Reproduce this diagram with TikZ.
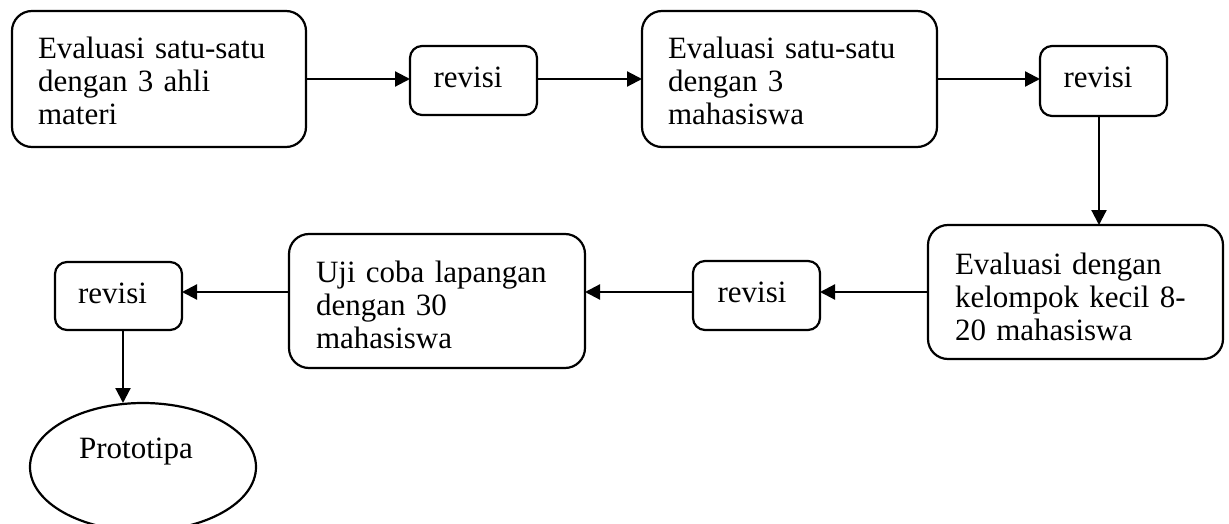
\documentclass[tikz,border=0pt]{standalone}
\usepackage{fontspec}
\setmainfont{Liberation Serif}
\usetikzlibrary{arrows.meta,shapes.geometric}
\tikzset{
  bigbox/.style={draw, line width=2.2pt, rounded corners=20pt, inner sep=0pt, outer sep=0pt},
  smallbox/.style={draw, line width=2.2pt, rounded corners=12pt, inner sep=0pt, outer sep=0pt},
  ovalnode/.style={draw, ellipse, line width=2.2pt, inner sep=0pt, outer sep=0pt},
  txt/.style={font=\fontsize{31}{33}\selectfont, inner sep=0pt, outer sep=0pt},
  mtxt/.style={txt, text width=280pt, align=left, anchor=base west},
  arr/.style={line width=2.2pt, -{Triangle[length=15pt,width=15pt]}}
}
\begin{document}
\begin{tikzpicture}[x=1pt,y=-1pt]
\useasboundingbox (0,0) rectangle (1229,524);
\clip (0,0) rectangle (1229,524);
% boxes
\node[bigbox, minimum width=294pt, minimum height=136pt] (p1) at (159,79) {};
\node[smallbox, minimum width=127pt, minimum height=69pt] (p2) at (473.5,80.5) {};
\node[bigbox, minimum width=295pt, minimum height=136pt] (p3) at (789.5,79) {};
\node[smallbox, minimum width=127pt, minimum height=70pt] (p4) at (1103.5,81) {};
\node[bigbox, minimum width=295pt, minimum height=134pt] (p5) at (1075.5,292) {};
\node[smallbox, minimum width=127pt, minimum height=69pt] (p6) at (756.5,295.5) {};
\node[bigbox, minimum width=296pt, minimum height=134pt] (p7) at (437,301) {};
\node[smallbox, minimum width=127pt, minimum height=68pt] (p8) at (118.5,296) {};
\node[ovalnode, minimum width=226pt, minimum height=128pt] (proto) at (143,467) {};
% texts
\node[mtxt] (t1) at (38,59) {Evaluasi satu-satu\\dengan 3 ahli\\materi};
\node[txt, anchor=base] (t2) at (468,88) {revisi};
\node[mtxt] (t3) at (668,59) {Evaluasi satu-satu\\dengan 3\\mahasiswa};
\node[txt, anchor=base] (t4) at (1098,88) {revisi};
\node[mtxt] (t5) at (955,274) {Evaluasi dengan\\kelompok kecil 8-\\20 mahasiswa};
\node[txt, anchor=base] (t6) at (752,302) {revisi};
\node[mtxt] (t7) at (316,282) {Uji coba lapangan\\dengan 30\\mahasiswa};
\node[txt, anchor=base] (t8) at (112.5,303) {revisi};
\node[txt, anchor=base] (t9) at (136,458) {Prototipa};
% connectors
\draw[arr] (p1.east) -- (p1.east -| p2.west);
\draw[arr] (p2.east |- p3.east) -- (p3.west);
\draw[arr] (p3.east) -- (p3.east -| p4.west);
\draw[arr] ([xshift=-4.5pt]p4.south) -- ([xshift=-4.5pt]p4.south |- p5.north);
\draw[arr] (p5.west) -- (p5.west -| p6.east);
\draw[arr] (p6.west |- p5.west) -- (p5.west -| p7.east);
\draw[arr] (p5.west -| p7.west) -- (p5.west -| p8.east);
\draw[arr] ([xshift=4.5pt]p8.south) -- ([xshift=4.5pt]p8.south |- proto.north);
\end{tikzpicture}
\end{document}
